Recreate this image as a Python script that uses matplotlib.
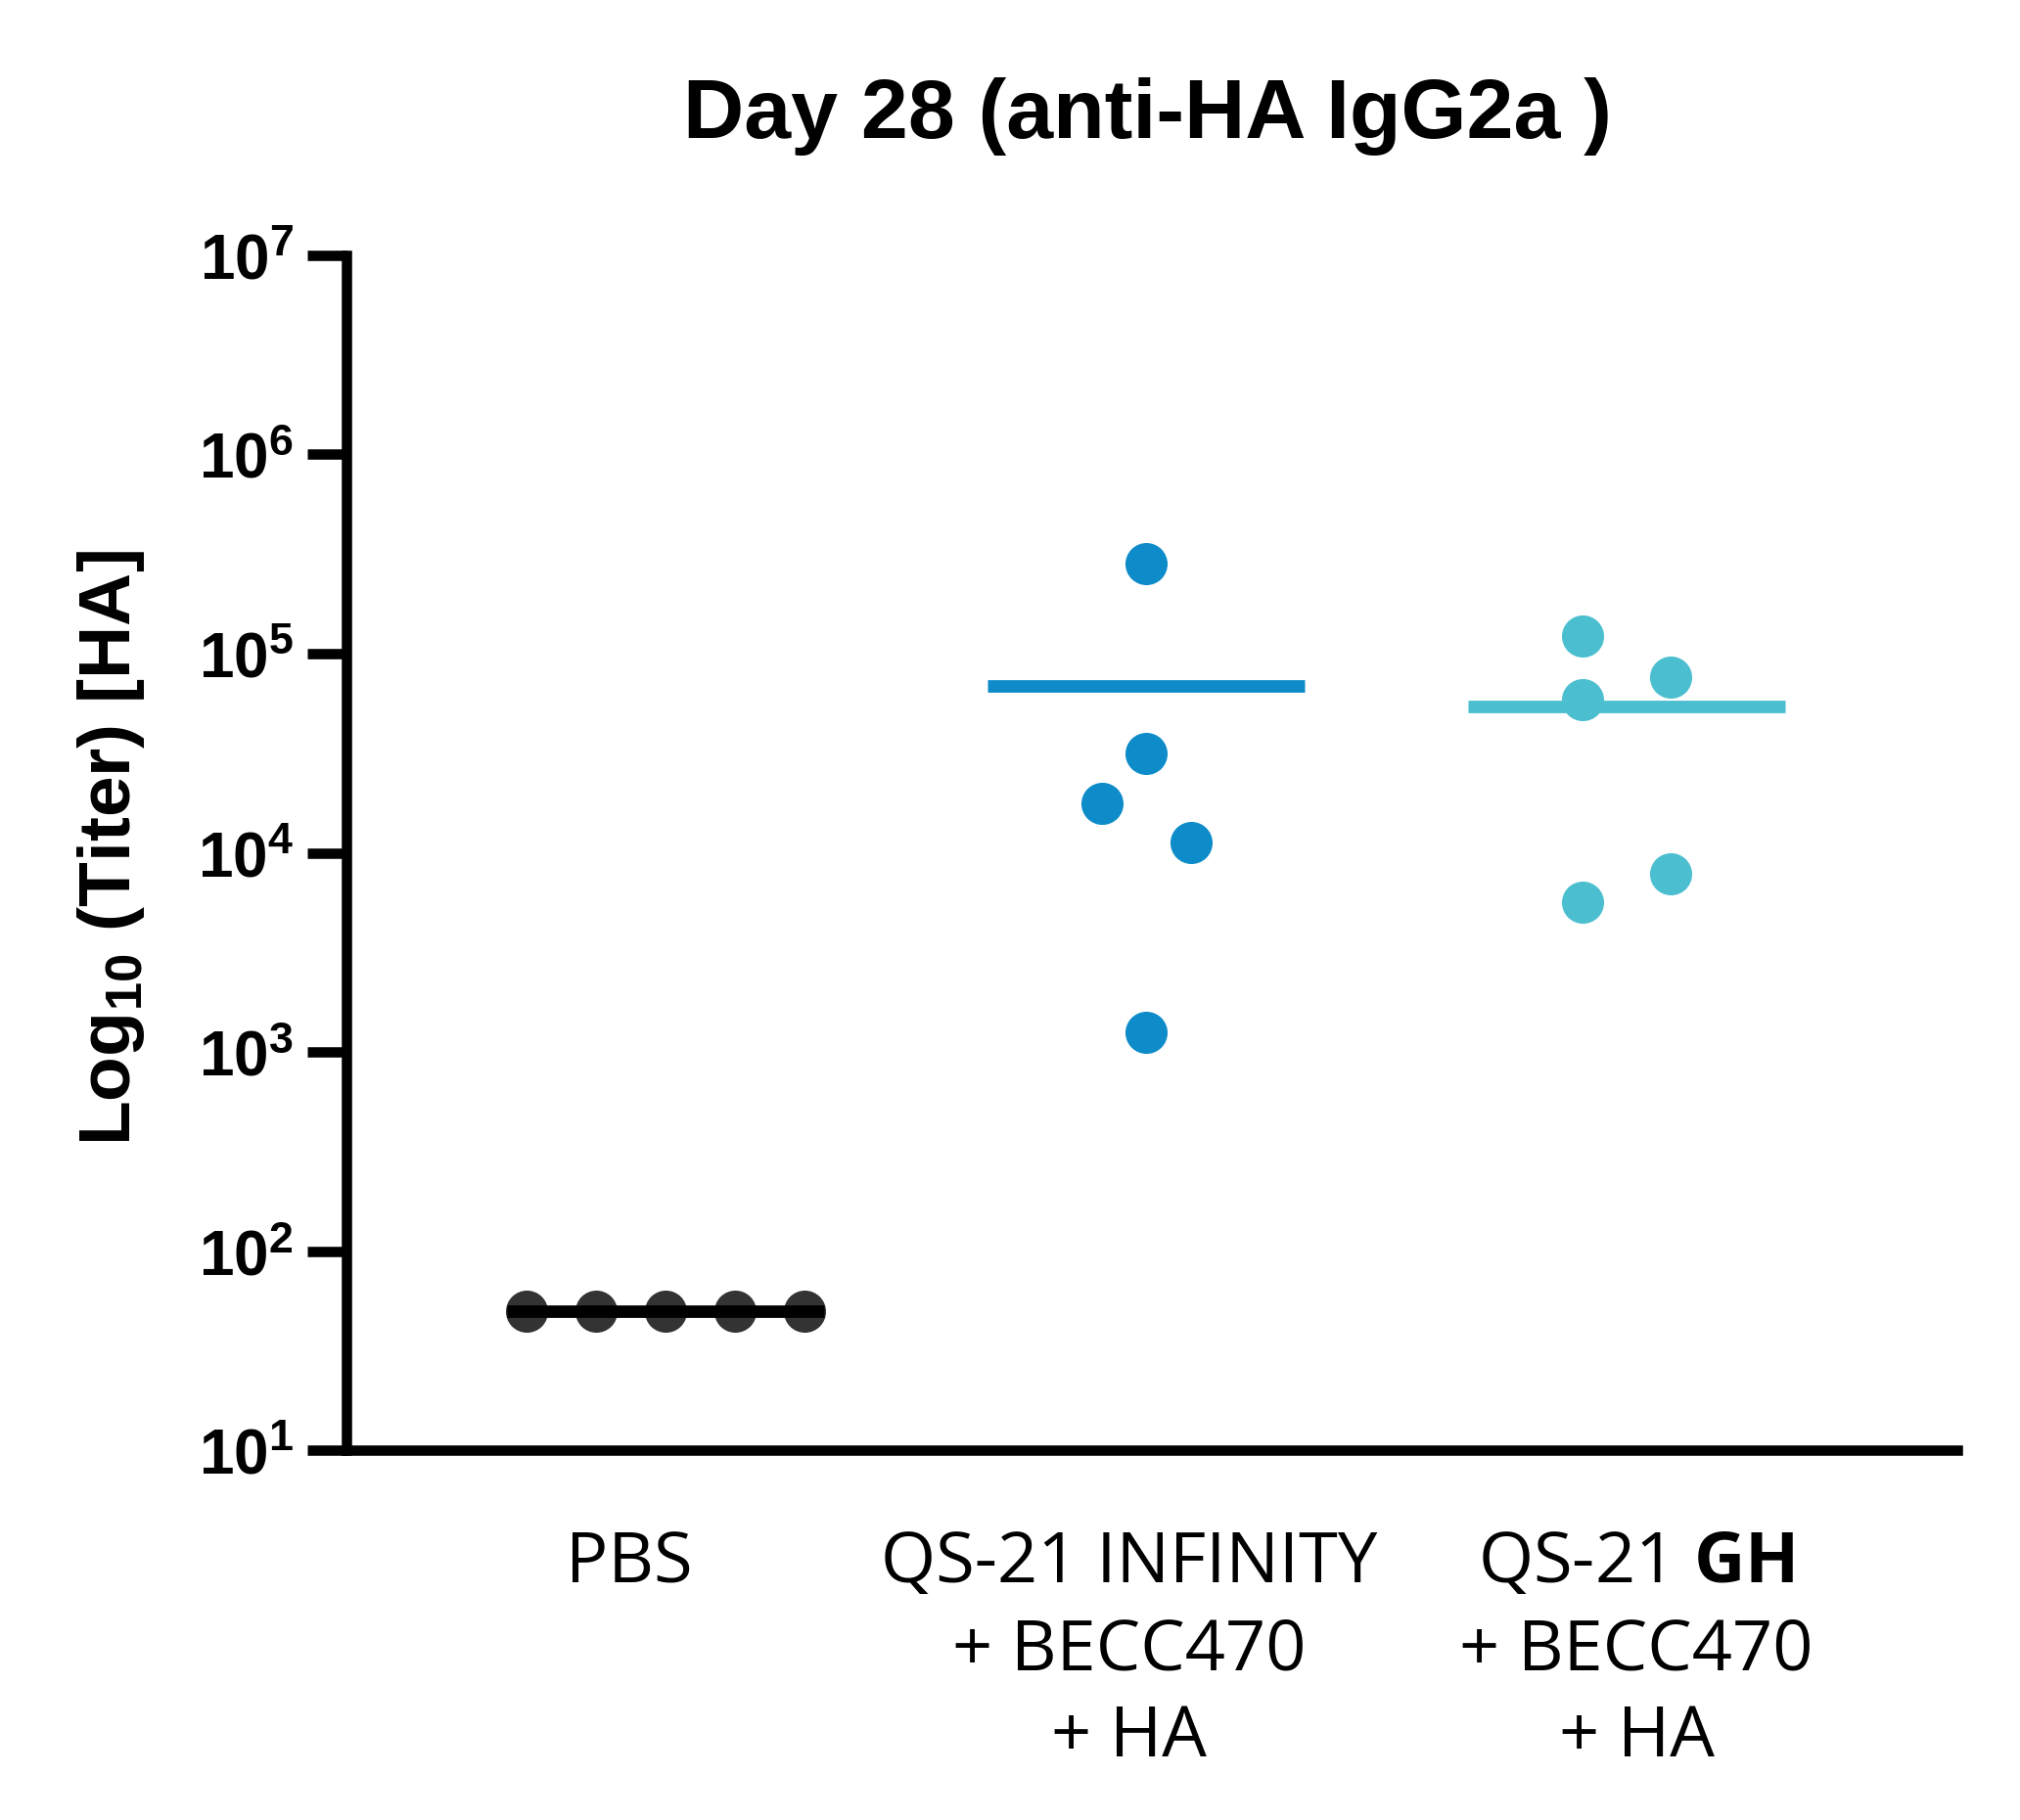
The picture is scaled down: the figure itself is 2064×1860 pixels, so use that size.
import numpy as np
import matplotlib
matplotlib.use('Agg')
import matplotlib.pyplot as plt

plt.rcParams['mathtext.fontset'] = 'custom'
plt.rcParams['mathtext.rm'] = 'Liberation Sans:bold'
plt.rcParams['mathtext.bf'] = 'Open Sans:bold'

##################
# data (titers, HA)
##################

groups = ['PBS',
          'QS-21 INFINITY\n+ BECC470\n+ HA',
          'QS-21 $\\mathbf{GH}$\n+ BECC470\n+ HA']
pbs = [50, 50, 50, 50, 50]
infinity = [2.84e5, 3.15e4, 1.78e4, 1.12e4, 1.26e3]
gh = [1.23e5, 5.9e4, 7.62e4, 5.62e3, 7.82e3]
yticks = [1e1, 1e2, 1e3, 1e4, 1e5, 1e6, 1e7]

# scatter offsets of the dots within a column
pbs_dx = [-0.289, -0.145, 0., 0.145, 0.289]
inf_dx = [0., 0., -0.091, 0.094, 0.]
gh_dx = [-0.091, -0.091, 0.091, -0.091, 0.091]

series = [(pbs, pbs_dx, '#333333', 'black'),
          (infinity, inf_dx, '#0e8bc9', '#0e8bc9'),
          (gh, gh_dx, '#4bbfcf', '#4bbfcf')]

fig = plt.figure(figsize=(10.32, 9.3), dpi=200)
ax = fig.add_axes([0.1715, 0.2032, 0.7975, 0.6565])

for ii, (vals, dx, cdot, cline) in enumerate(series):
	x = ii + np.asarray(dx)
	ax.plot(x, vals, 'o', color=cdot, ms=15.5, mew=0, zorder=3, clip_on=False)
	m = np.mean(vals)
	ax.plot([ii-0.33, ii+0.33], [m, m], '-', color=cline, lw=4.6,
	        solid_capstyle='butt', zorder=4 if ii == 0 else 2)

ax.set_yscale('log')
ax.set_ylim(1e1, 1e7)
ax.set_xlim(-0.664, 2.688)
ax.set_yticks(yticks)
ax.set_yticklabels([r'$\mathrm{10^{%d}}$' % int(np.log10(t)) for t in yticks])
ax.yaxis.set_minor_locator(matplotlib.ticker.NullLocator())
ax.tick_params(axis='y', length=14.4, width=3.8, pad=5, labelsize=23)

ax.set_xticks([-0.075, 0.965, 2.02])
ax.set_xticklabels(groups, fontsize=26, family='Open Sans', linespacing=1.32)
ax.tick_params(axis='x', length=0, pad=29)

for s in ['top', 'right']:
	ax.spines[s].set_visible(False)
for s in ['left', 'bottom']:
	ax.spines[s].set_linewidth(3.8)

ax.set_ylabel(r'Log$_{\mathrm{10}}$ (Titer) [HA]', fontsize=27, fontweight='bold',
              family='Liberation Sans')
ax.yaxis.set_label_coords(-0.124, 0.504)

fig.text(0.568, 0.936, 'Day 28 (anti-HA IgG2a )', ha='center', va='center',
         fontsize=31, fontweight='bold', family='Liberation Sans')

plt.savefig('out.png', dpi=200)
plt.close()
